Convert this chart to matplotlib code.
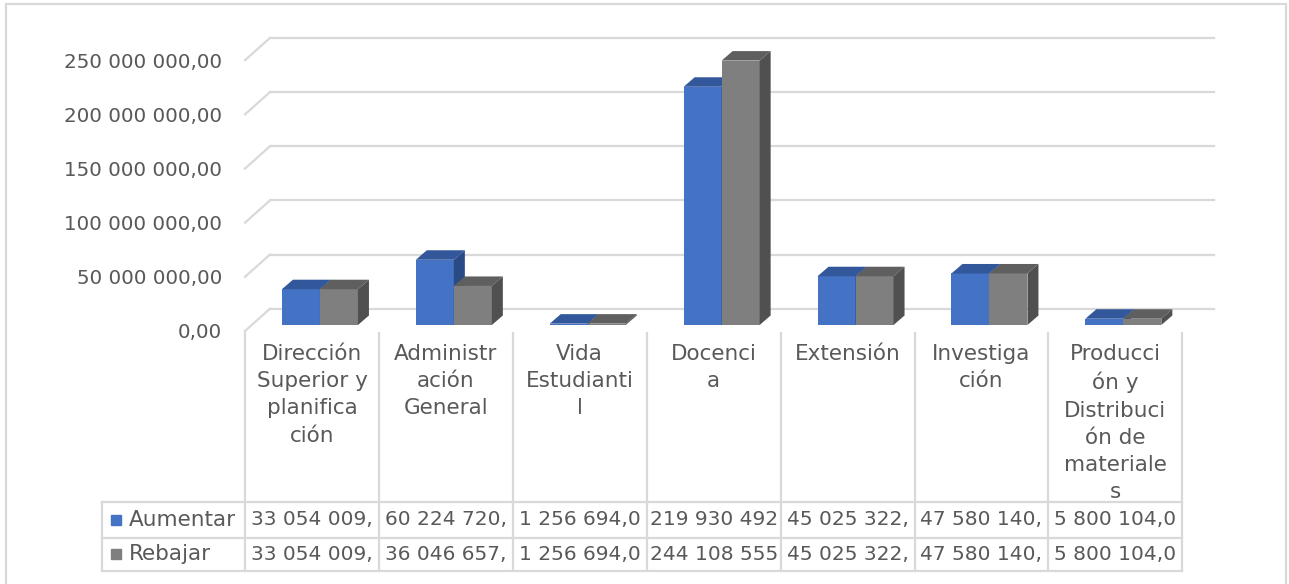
import numpy as np
import matplotlib.pyplot as plt
import matplotlib.transforms as mtransforms
from matplotlib.patches import Polygon, Rectangle
from matplotlib.lines import Line2D
from matplotlib.ticker import FuncFormatter

# ------------------------------------------------------------------
# data
# ------------------------------------------------------------------
categorias = ["Dirección\nSuperior y\nplanifica\nción",
              "Administr\nación\nGeneral",
              "Vida\nEstudianti\nl",
              "Docenci\na",
              "Extensión",
              "Investiga\nción",
              "Producci\nón y\nDistribuci\nón de\nmateriale\ns"]
series = ["Aumentar", "Rebajar"]
aumentar = [33054009, 60224720, 1256694, 219930492, 45025322, 47580140, 5800104]
rebajar = [33054009, 36046657, 1256694, 244108555, 45025322, 47580140, 5800104]
y_ticks = [0, 50e6, 100e6, 150e6, 200e6, 250e6]

# colours (front, top, side)
azul = ("#4472C4", "#32579A", "#2A4A86")
gris = ("#7F7F7F", "#5F5F5F", "#505050")
c_texto = "#595959"
c_linea = "#D9D9D9"

plt.rcParams['font.family'] = ['DejaVu Sans']

W, H = 1289, 584
fig = plt.figure(figsize=(W / 100, H / 100), dpi=100)


def fx(px):
    return px / W


def fy(py):
    return 1 - py / H


# axes = plane of the bar fronts (pixels)
x0_px, x1_px = 253.0, 1190.3
y0_px, y1_px = 325.0, 54.2
ax = fig.add_axes([fx(x0_px), fy(y0_px), fx(x1_px) - fx(x0_px), fy(y1_px) - fy(y0_px)])
ax.set_xlim(-0.5, 6.5)
ax.set_ylim(0, 250e6)
ax.patch.set_visible(False)
for s in ax.spines.values():
    s.set_visible(False)
ax.set_xticks([])

px_x = (x1_px - x0_px) / 7.0
px_y = (y0_px - y1_px) / 250e6


def dxd(px):
    return px / px_x


def dyd(px):
    return px / px_y


# depth offsets (pixels -> data)
front_dx, front_dy = dxd(-8), dyd(-6)
back_dx, back_dy = dxd(17), dyd(16.3)
bar_dx, bar_dy = dxd(11), dyd(9.5)

# y axis labels, drawn on the front plane
ax.set_yticks(y_ticks)
ax.yaxis.set_major_formatter(FuncFormatter(
    lambda v, p: f"{v:,.2f}".replace(",", " ").replace(".", ",")))
ax.tick_params(axis='y', length=0, pad=22, labelsize=14.3, labelcolor=c_texto)
shift = mtransforms.ScaledTranslation(0, -0.06, fig.dpi_scale_trans)
for lab in ax.get_yticklabels():
    lab.set_transform(lab.get_transform() + shift)

# back wall gridlines + side wall diagonals
for t in y_ticks:
    ax.add_line(Line2D([-0.5 + back_dx, 6.55 + back_dx], [t + back_dy, t + back_dy],
                       color=c_linea, lw=1.6, clip_on=False, zorder=1))
    ax.add_line(Line2D([-0.5 + front_dx, -0.5 + back_dx], [t + front_dy, t + back_dy],
                       color=c_linea, lw=1.6, clip_on=False, zorder=1))

# 3D-looking columns
x = np.arange(len(categorias))
w = dxd(38)


def columnas(xs, vals, colores, z):
    rects = ax.bar(xs, vals, w, align='edge', color=colores[0], lw=0, zorder=z, clip_on=False)
    for r in rects:
        a, h = r.get_x(), r.get_height()
        b = a + r.get_width()
        top = [(a, h), (b, h), (b + bar_dx, h + bar_dy), (a + bar_dx, h + bar_dy)]
        side = [(b, 0), (b + bar_dx, bar_dy), (b + bar_dx, h + bar_dy), (b, h)]
        ax.add_patch(Polygon(top, closed=True, fc=colores[1], lw=0, zorder=z + 0.1, clip_on=False))
        ax.add_patch(Polygon(side, closed=True, fc=colores[2], lw=0, zorder=z + 0.1, clip_on=False))


columnas(x - w, aumentar, azul, 3)
columnas(x, rebajar, gris, 4)

# ------------------------------------------------------------------
# data table (front plane)
# ------------------------------------------------------------------
front_tr = ax.transData + mtransforms.ScaledTranslation(-0.08, -0.06, fig.dpi_scale_trans)
tbl = mtransforms.blended_transform_factory(front_tr, fig.transFigure)

t_top, r1, r2, t_bot = 333, 502, 537.5, 571
leyenda_w = dxd(143)

for k in range(len(categorias) + 1):
    fig.add_artist(Line2D([k - 0.5, k - 0.5], [fy(t_top), fy(t_bot)], transform=tbl,
                          color=c_linea, lw=1.6))
fig.add_artist(Line2D([-0.5 - leyenda_w] * 2, [fy(r1), fy(t_bot)], transform=tbl,
                      color=c_linea, lw=1.6))
for yy in (r1, r2, t_bot):
    fig.add_artist(Line2D([-0.5 - leyenda_w, 6.5], [fy(yy), fy(yy)], transform=tbl,
                          color=c_linea, lw=1.6))

for i, cat in enumerate(categorias):
    fig.text(i, fy(344), cat, transform=tbl, ha='center', va='top', fontsize=15.5,
             color=c_texto, linespacing=1.45)


def celda(v):
    return f"{v:,.2f}".replace(",", " ").replace(".", ",")[:11]


for fila, (nombre, vals, col) in enumerate(zip(series, [aumentar, rebajar], [azul[0], gris[0]])):
    yc = fy((r1 + r2) / 2 if fila == 0 else (r2 + t_bot) / 2)
    for i, v in enumerate(vals):
        fig.text(i, yc, celda(v), transform=tbl, ha='center', va='center',
                 fontsize=14.5, color=c_texto)
    fig.add_artist(Line2D([-0.5 - leyenda_w + dxd(14)], [yc], transform=tbl, marker='s',
                          markersize=7.5, color=col, lw=0))
    fig.text(-0.5 - leyenda_w + dxd(27), yc, nombre, transform=tbl, ha='left', va='center',
             fontsize=15.5, color=c_texto)

# outer chart frame
fig.add_artist(Rectangle((fx(6), fy(H + 5)), fx(1286) - fx(6), fy(4) - fy(H + 5),
                         transform=fig.transFigure, fill=False, ec=c_linea, lw=1.6))

fig.savefig("out.png", dpi=100)
